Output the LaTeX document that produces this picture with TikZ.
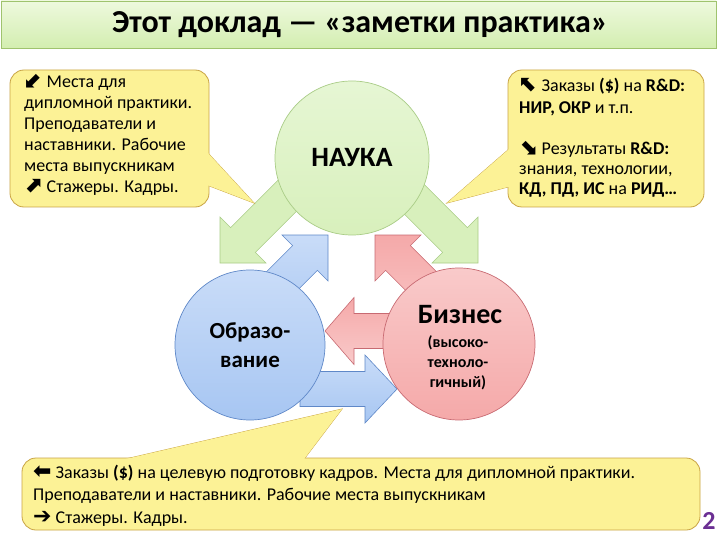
\documentclass[tikz,border=0pt]{standalone}
\usepackage{fontspec}
\setmainfont{Carlito}
\newfontfamily\symf{DejaVu Sans}[BoldFont=DejaVu Sans Bold]
\definecolor{callfill}{HTML}{FCF296}
\definecolor{callline}{HTML}{C9A445}
\definecolor{titletop}{HTML}{EEF9DE}
\definecolor{titlebot}{HTML}{D3EEB0}
\definecolor{titleline}{HTML}{9FC36E}
\definecolor{gfill}{HTML}{D8F0BC}
\definecolor{gfill2}{HTML}{E6F6D4}
\definecolor{gline}{HTML}{A9CC86}
\definecolor{bfill}{HTML}{C9DCF8}
\definecolor{bfill2}{HTML}{A7C6F2}
\definecolor{bline}{HTML}{5F88C8}
\definecolor{pfill}{HTML}{F9CACA}
\definecolor{pfill2}{HTML}{F5A9A9}
\definecolor{pline}{HTML}{C86A72}
\definecolor{numpurple}{HTML}{6B2F93}
\tikzset{
  callout/.style={fill=callfill, draw=callline, line width=0.8pt},
  greenarr/.style={fill=gfill, draw=gline, line width=0.6pt},
  bluearr/.style={top color=bfill, bottom color=bfill2, draw=bline, line width=0.6pt},
  pinkarr/.style={top color=pfill2, bottom color=pfill, draw=pline, line width=0.6pt},
  txt/.style={anchor=base west, inner sep=0pt, font=\fontsize{18}{21}\selectfont},
  circ/.style={circle, inner sep=0pt, line width=0.7pt, align=center},
}
\newcommand\sym[1]{{\fontsize{22}{21}\symf\bfseries #1}}
\newcommand\blockarrow[7]{%
  \begin{scope}[shift={(#2,#3)},rotate=#4]
    \draw[#1] (0,0) -- (-#6,#7) -- (-#6,17.5) -- (-#5,17.5) -- (-#5,-17.5) -- (-#6,-17.5) -- (-#6,-#7) -- cycle;
  \end{scope}}
\begin{document}
\begin{tikzpicture}[x=1pt,y=-1pt]
\useasboundingbox (0,0) rectangle (720,540);
\fill[white] (0,0) rectangle (720,540);
% title bar
\draw[top color=titletop, bottom color=titlebot, draw=titleline, line width=0.8pt] (1,1) rectangle (716,48);
\node[font=\fontsize{32}{34}\selectfont\bfseries] (title) at (360,25) {Этот доклад — «заметки практика»};
% block arrows (behind circles)
\blockarrow{greenarr}{220}{263}{225}{125}{32.5}{32.5}
\blockarrow{greenarr}{478}{263}{315}{125}{32.5}{32.5}
\blockarrow{bluearr}{328}{235}{45}{130}{32.5}{32.5}
\blockarrow{pinkarr}{375}{235}{135}{130}{32.5}{32.5}
\blockarrow{pinkarr}{325}{331}{180}{95}{29}{33.5}
\blockarrow{bluearr}{397}{389}{0}{97}{32}{34}
% circles
\node[circ, minimum size=154pt, top color=gfill2, bottom color=gfill, draw=gline,
      font=\fontsize{28}{30}\selectfont\bfseries] (nauka) at (352,158) {НАУКА};
\node[circ, minimum size=150pt, top color=bfill, bottom color=bfill2, draw=bline,
      font=\fontsize{23}{29}\selectfont\bfseries] (obr) at (250,345) {Образо-\\вание};
\node[circ, minimum size=152pt, top color=pfill, bottom color=pfill2, draw=pline] (biz) at (459,344) {};
\node[font=\fontsize{28}{30}\selectfont\bfseries, inner sep=0pt] (biztitle) at (460,315) {Бизнес};
\node[font=\fontsize{16}{20}\selectfont\bfseries, align=center, inner sep=0pt] (bizsub) at (458,363) {(высоко-\\техноло-\\гичный)};
% top-left callout
\draw[callout] (190,133.6) -- (254,203) -- (190,178.5) -- cycle;
\draw[callout, rounded corners=14pt] (10,70) rectangle (209,207);
\fill[callfill] (190,133.6) -- (254,203) -- (190,178.5) -- cycle;
\node[txt] (tl1) at (24,88) {\sym{⬋} Места для};
\node[txt] (tl2) at (24,109) {дипломной практики.};
\node[txt] (tl3) at (24,130) {Преподаватели и};
\node[txt] (tl4) at (24,151) {наставники. Рабочие};
\node[txt] (tl5) at (24,172) {места выпускникам};
\node[txt] (tl6) at (24,193) {\sym{⬈} Стажеры. Кадры.};
% top-right callout
\draw[callout] (525,135.2) -- (447,203) -- (525,182.5) -- cycle;
\draw[callout, rounded corners=14pt] (508,70) rectangle (704,207);
\fill[callfill] (525,135.2) -- (447,203) -- (525,182.5) -- cycle;
\node[txt] (tr1) at (519,92) {\sym{⬉} Заказы \textbf{(\$)} на \textbf{R\&D:}};
\node[txt] (tr2) at (519,114) {\textbf{НИР, ОКР} и т.п.};
\node[txt] (tr3) at (519,155) {\sym{⬊} Результаты \textbf{R\&D:}};
\node[txt] (tr4) at (519,175) {знания, технологии,};
\node[txt] (tr5) at (519,195) {\textbf{КД, ПД, ИС} на \textbf{РИД…}};
% bottom callout
\draw[callout] (56.4,475) -- (342,409) -- (292,475) -- cycle;
\draw[callout, rounded corners=14pt] (22,458) rectangle (700,530);
\fill[callfill] (56.4,475) -- (342,409) -- (292,475) -- cycle;
\node[txt] (b1) at (33,478) {\sym{⬅} Заказы \textbf{(\$)} на целевую подготовку кадров. Места для дипломной практики.};
\node[txt] (b2) at (33,500) {Преподаватели и наставники. Рабочие места выпускникам};
\node[txt] (b3) at (33,523) {\sym{➔} Стажеры. Кадры.};
% page number
\node[font=\fontsize{26}{26}\selectfont\bfseries, text=numpurple, inner sep=0pt] (pg) at (709,521) {2};
\end{tikzpicture}
\end{document}
